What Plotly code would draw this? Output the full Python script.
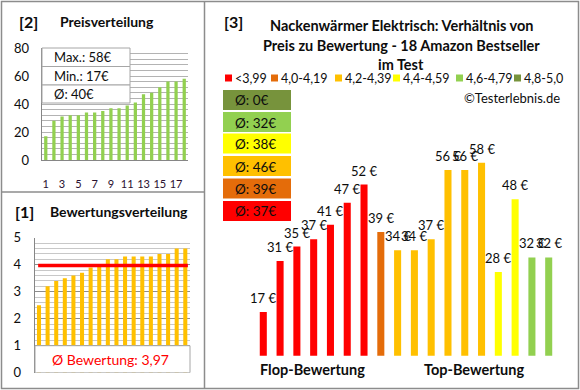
import plotly.graph_objects as go

W, H = 580, 390
FONT = "Lato"
DARK = "#0d0d0d"
GRID = "#b3b3b3"
BORDER = "#8c8c8c"

# ---------------- data ----------------
price_idx = list(range(1, 19))
price_sorted = [17, 28, 31, 32, 32, 34, 34, 35, 37, 37, 39, 41, 47, 48, 52, 56, 56, 58]
price_ticks = [1, 3, 5, 7, 9, 11, 13, 15, 17]

rating_idx = list(range(1, 19))
rating_sorted = [2.5, 3.2, 3.4, 3.5, 3.6, 3.7, 3.9, 4.0, 4.2, 4.2, 4.3, 4.3, 4.3, 4.3, 4.4, 4.4, 4.6, 4.6]

bar_idx = list(range(1, 19))
bar_prices = [17, 31, 35, 37, 41, 47, 52, 39, 34, 34, 37, 56, 56, 58, 28, 48, 32, 32]
bar_groups = [0, 0, 0, 0, 0, 0, 0, 1, 2, 2, 2, 2, 2, 2, 3, 3, 4, 4]
group_labels = ["<3,99", "4,0-4,19", "4,2-4,39", "4,4-4,59", "4,6-4,79", "4,8-5,0"]
group_colors = ["#ff0000", "#e46c0a", "#ffc000", "#ffff00", "#92d050", "#77933c"]

title_lines = ["Nackenwärmer Elektrisch: Verhältnis von",
               "Preis zu Bewertung - 18 Amazon Bestseller",
               "im Test"]


def px(x):
    return x / W


def py(y):
    return 1 - y / H


fig = go.Figure()

# [2] price distribution
fig.add_trace(go.Bar(x=price_idx, y=price_sorted, width=0.4, marker_color="#92d050",
                     marker_line_width=0, xaxis="x", yaxis="y", showlegend=False))
# [1] rating distribution
fig.add_trace(go.Bar(x=rating_idx, y=rating_sorted, width=0.47, marker_color="#ffc000",
                     marker_line_width=0, xaxis="x2", yaxis="y2", showlegend=False))
# [3] price vs rating
fig.add_trace(go.Bar(x=bar_idx, y=bar_prices, width=0.42,
                     marker_color=[group_colors[g] for g in bar_groups], marker_line_width=0,
                     xaxis="x3", yaxis="y3", showlegend=False))

tickfont = dict(family=FONT, size=13, color=DARK)

fig.update_layout(
    width=W, height=H, margin=dict(l=0, r=0, t=0, b=0, autoexpand=False),
    paper_bgcolor="white", plot_bgcolor="white",
    font=dict(family=FONT, color=DARK),
    barmode="overlay",
    xaxis=dict(domain=[px(41.7), px(188.3)], range=[0.5, 18.5], tickvals=price_ticks,
               showgrid=False, zeroline=False, showline=True, linecolor="#868686", linewidth=1,
               ticks="", ticklabelstandoff=14, tickfont=dict(family=FONT, size=11, color="#2a1030"),
               anchor="y", automargin=False),
    yaxis=dict(domain=[py(160), py(48)], range=[0, 80], dtick=20, tick0=0,
               showgrid=True, gridcolor=GRID, gridwidth=1,
               minor=dict(dtick=4, showgrid=True, gridcolor=GRID, gridwidth=1),
               zeroline=False, showline=True, linecolor="#868686", linewidth=1,
               ticks="", ticklabelstandoff=9, tickfont=tickfont, anchor="x", automargin=False),
    xaxis2=dict(domain=[px(34.7), px(189.6)], range=[0.5, 18.5], showticklabels=False,
                showgrid=False, zeroline=False, showline=False, ticks="", anchor="y2",
                automargin=False),
    yaxis2=dict(domain=[py(372.7), py(237.7)], range=[0, 5], dtick=1, tick0=0,
                showgrid=True, gridcolor="#8c8c8c", gridwidth=1,
                minor=dict(dtick=0.2, showgrid=True, gridcolor="#c8c8c8", gridwidth=1),
                zeroline=False, showline=True, linecolor="#868686", linewidth=1,
                ticks="", ticklabelstandoff=10, tickfont=tickfont, anchor="x2", automargin=False),
    xaxis3=dict(domain=[px(254.9), px(557.1)], range=[0.5, 18.5], visible=False, anchor="y3",
                automargin=False),
    yaxis3=dict(domain=[py(355.7), py(355.7 - 57 * 3.64)], range=[5, 62], visible=False,
                anchor="x3", automargin=False),
)

shapes = []
annotations = []


def text(x, y, s, size=13, color=DARK, xanchor="left", bold=False):
    annotations.append(dict(x=px(x), y=py(y), xref="paper", yref="paper",
                            text=f"<b>{s}</b>" if bold else s, showarrow=False,
                            xanchor=xanchor, yanchor="middle",
                            font=dict(family=FONT, size=size, color=color)))


# bar value labels (data coordinates)
for xi, p in zip(bar_idx, bar_prices):
    annotations.append(dict(x=xi, y=p, xref="x3", yref="y3", text=f"{p} €", showarrow=False,
                            xanchor="center", yanchor="bottom", yshift=4,
                            font=dict(family=FONT, size=13, color=DARK)))

# panel borders
shapes.append(dict(type="rect", xref="paper", yref="paper", x0=px(1.5), x1=px(578.5),
                   y0=py(388.5), y1=py(1.5), line=dict(color=BORDER, width=1.5)))
shapes.append(dict(type="line", xref="paper", yref="paper", x0=px(204.5), x1=px(204.5),
                   y0=py(388.5), y1=py(1.5), line=dict(color=BORDER, width=1.5)))
shapes.append(dict(type="line", xref="paper", yref="paper", x0=px(1.5), x1=px(204.5),
                   y0=py(192), y1=py(192), line=dict(color=BORDER, width=1.5)))

# panel titles
text(17, 21, "[2]", size=16, bold=True)
text(58, 21, "Preisverteilung", size=14, bold=True)
text(13, 211, "[1]", size=16, bold=True)
text(48, 211, "Bewertungsverteilung", size=14, bold=True)
text(222, 21.5, "[3]", size=16, bold=True)

# price stats box
p_max, p_min = max(price_sorted), min(price_sorted)
p_avg = sum(price_sorted) / len(price_sorted)
stats = [f"Max.: {p_max}€", f"Min.: {p_min}€", f"Ø: {p_avg:.0f}€"]
row_y = [48, 66.5, 85, 103]
for i, s in enumerate(stats):
    shapes.append(dict(type="rect", xref="paper", yref="paper", layer="above",
                       x0=px(42), x1=px(130), y0=py(row_y[i + 1]), y1=py(row_y[i]),
                       fillcolor="white", line=dict(color="#a6a6a6", width=1)))
    text(51.5, (row_y[i] + row_y[i + 1]) / 2, s, size=13)

# rating mean line + box
r_avg = sum(rating_sorted) / len(rating_sorted)
shapes.append(dict(type="line", xref="x2", yref="y2", x0=0.9, x1=18.3, y0=r_avg, y1=r_avg,
                   layer="above", line=dict(color="#ff0000", width=3.5)))
shapes.append(dict(type="rect", xref="paper", yref="y2", layer="above",
                   x0=px(35), x1=px(190), y0=0, y1=1,
                   fillcolor="white", line=dict(color="#a6a6a6", width=1)))
text(110, 359.5, f"Ø Bewertung: {r_avg:.2f}".replace(".", ","), size=14, color="#ff0000",
     xanchor="center")

# title
for s, y in zip(title_lines, [26, 45.5, 64.5]):
    text(401, y, s, size=14.5, bold=True, xanchor="center")

# legend (rating classes)
leg_sq_x = [225, 271, 335, 393, 456, 514]
for lab, col, x in zip(group_labels, group_colors, leg_sq_x):
    shapes.append(dict(type="rect", xref="paper", yref="paper", x0=px(x), x1=px(x + 7),
                       y0=py(81.5), y1=py(74.5), fillcolor=col, line=dict(width=0)))
    text(x + 8, 78.5, lab.replace("<", "&lt;"), size=12.5)

text(562, 98, "©Testerlebnis.de", size=13, xanchor="right")

# group average boxes (top: best class)
box_top = [90, 112, 133.5, 156, 178.5, 201]
for k, y0 in zip(range(5, -1, -1), box_top):
    vals = [p for p, g in zip(bar_prices, bar_groups) if g == k]
    avg = sum(vals) / len(vals) if vals else 0
    shapes.append(dict(type="rect", xref="paper", yref="paper", x0=px(223), x1=px(291),
                       y0=py(y0 + 20), y1=py(y0), fillcolor=group_colors[k], line=dict(width=0)))
    text(233, y0 + 10.5, f"Ø: {avg:.0f}€", size=13.5)

text(312, 369.5, "Flop-Bewertung", size=14.5, bold=True, xanchor="center")
text(474, 369.5, "Top-Bewertung", size=14.5, bold=True, xanchor="center")

fig.update_layout(shapes=shapes, annotations=annotations)
fig.write_html("out.html", config={"displayModeBar": False},
               post_script="document.body.style.margin='0';")
